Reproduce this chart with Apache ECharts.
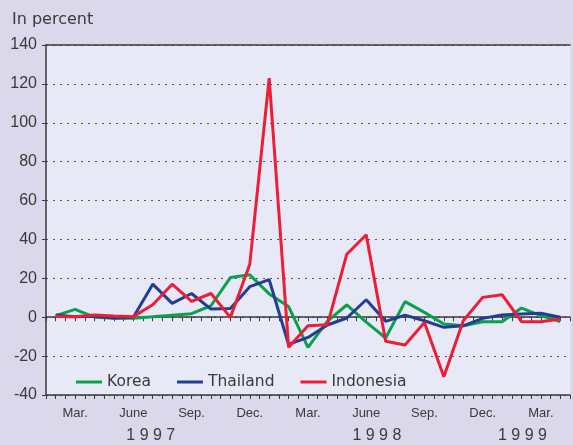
<!DOCTYPE html>
<html>
<head>
<meta charset="utf-8">
<script src="https://cdn.jsdelivr.net/npm/echarts@6/dist/echarts.min.js"></script>
<style>
  html, body { margin: 0; padding: 0; }
  #main { width: 573px; height: 445px; }
</style>
</head>
<body>
<div id="main"></div>
<script>
// monthly, Feb 1997 .. Apr 1999
const monthLabels = ['', 'Mar.', '', '', 'June', '', '', 'Sep.', '', '', 'Dec.', '', '',
  'Mar.', '', '', 'June', '', '', 'Sep.', '', '', 'Dec.', '', '', 'Mar.', '']
const korea = [0.8, 4, 0, -0.5, -0.5, 0.2, 1, 1.8, 5.9, 20.4, 21.8, 12, 5.5,
  -15.5, -2, 6.3, -2.5, -10.7, 8, 2.5, -3.5, -4.4, -2.3, -2.3, 4.7, 0.8, -2.2]
const thailand = [1.1, 0.3, 0.5, -0.4, 0, 17, 7.1, 12.2, 4.2, 4.5, 15.7, 19.3, -14,
  -10.4, -4, -0.4, 9, -2.1, 1.1, -1.8, -5.2, -4.4, -0.6, 1.1, 1.6, 2, 0]
const indonesia = [0.4, 0.3, 1.1, 0.6, 0.3, 6.4, 17, 8.1, 12.2, -0.1, 27.3, 123, -15.5,
  -4.4, -3.9, 32.4, 42.4, -12.4, -14.3, -2.7, -30.6, -1.8, 10.2, 11.6, -2.3, -2.3, -0.9]
const yearLabels = ['1 9 9 7', '1 9 9 8', '1 9 9 9']
const yearPos = [4.9, 16.55, 24.05]

const axisColor = '#3a3a3a'
const chart = echarts.init(document.getElementById('main'))

const toPoints = (arr) => arr.map((v, i) => [i, v])

const makeLine = (name, data, color) => ({
  name,
  type: 'line',
  data: toPoints(data),
  showSymbol: false,
  symbol: 'none',
  lineStyle: { width: 3, color },
  itemStyle: { color },
  z: 3
})

chart.setOption({
  backgroundColor: '#dad8ea',
  animation: false,
  title: {
    text: 'In percent',
    left: 7,
    top: 7,
    textStyle: { fontFamily: 'DejaVu Sans', fontSize: 16, fontWeight: 'normal', color: axisColor }
  },
  grid: {
    left: 46,
    top: 45,
    right: 0,
    bottom: 50,
    show: true,
    backgroundColor: '#e7eaf6',
    borderWidth: 0
  },
  legend: {
    left: 71,
    top: 369,
    icon: 'rect',
    itemWidth: 26,
    itemHeight: 3,
    itemGap: 26,
    textStyle: { fontFamily: 'DejaVu Sans', fontSize: 15.5, color: axisColor },
    data: ['Korea', 'Thailand', 'Indonesia']
  },
  xAxis: [
    {
      type: 'value',
      position: 'bottom',
      min: -0.5,
      max: 26.5,
      interval: 0.5,
      axisLine: { onZero: false, lineStyle: { color: axisColor, width: 1.5 } },
      axisTick: { length: 4, lineStyle: { color: axisColor } },
      axisLabel: {
        margin: 12,
        fontFamily: '"Liberation Sans Narrow", "Liberation Sans"',
        fontSize: 13,
        color: axisColor,
        formatter: (v) => (Number.isInteger(v) ? monthLabels[v] || '' : '')
      },
      splitLine: { show: false }
    },
    {
      type: 'value',
      position: 'bottom',
      min: -0.5,
      max: 26.5,
      interval: 0.5,
      axisLine: { onZero: true, lineStyle: { color: axisColor, width: 1.5 } },
      axisTick: { length: 4, lineStyle: { color: axisColor } },
      axisLabel: { show: false },
      splitLine: { show: false }
    },
    {
      type: 'value',
      position: 'top',
      min: -0.5,
      max: 26.5,
      axisLine: { onZero: false, lineStyle: { color: axisColor, width: 1.5 } },
      axisTick: { show: false },
      axisLabel: { show: false },
      splitLine: { show: false }
    }
  ],
  yAxis: {
    type: 'value',
    min: -40,
    max: 140,
    interval: 20,
    axisLine: { show: true, onZero: false, lineStyle: { color: axisColor, width: 1.5 } },
    axisTick: { show: true, length: 4, lineStyle: { color: axisColor } },
    axisLabel: {
      margin: 9,
      fontFamily: 'Liberation Sans',
      fontSize: 16,
      color: axisColor
    },
    splitLine: { lineStyle: { color: '#555', width: 1, type: [2, 5] } }
  },
  series: [
    makeLine('Korea', korea, '#0aa04c'),
    makeLine('Thailand', thailand, '#243c94'),
    makeLine('Indonesia', indonesia, '#ee1d36')
  ]
})

// year labels under the month labels
const yBase = chart.convertToPixel({ yAxisIndex: 0 }, -40)
chart.setOption({
  graphic: yearLabels.map((t, i) => ({
    type: 'text',
    x: chart.convertToPixel({ xAxisIndex: 0 }, yearPos[i]),
    y: yBase + 41,
    style: {
      text: t,
      fontFamily: 'Liberation Sans',
      fontSize: 16,
      fill: axisColor,
      textAlign: 'center',
      textVerticalAlign: 'middle'
    }
  }))
})
</script>
</body>
</html>
